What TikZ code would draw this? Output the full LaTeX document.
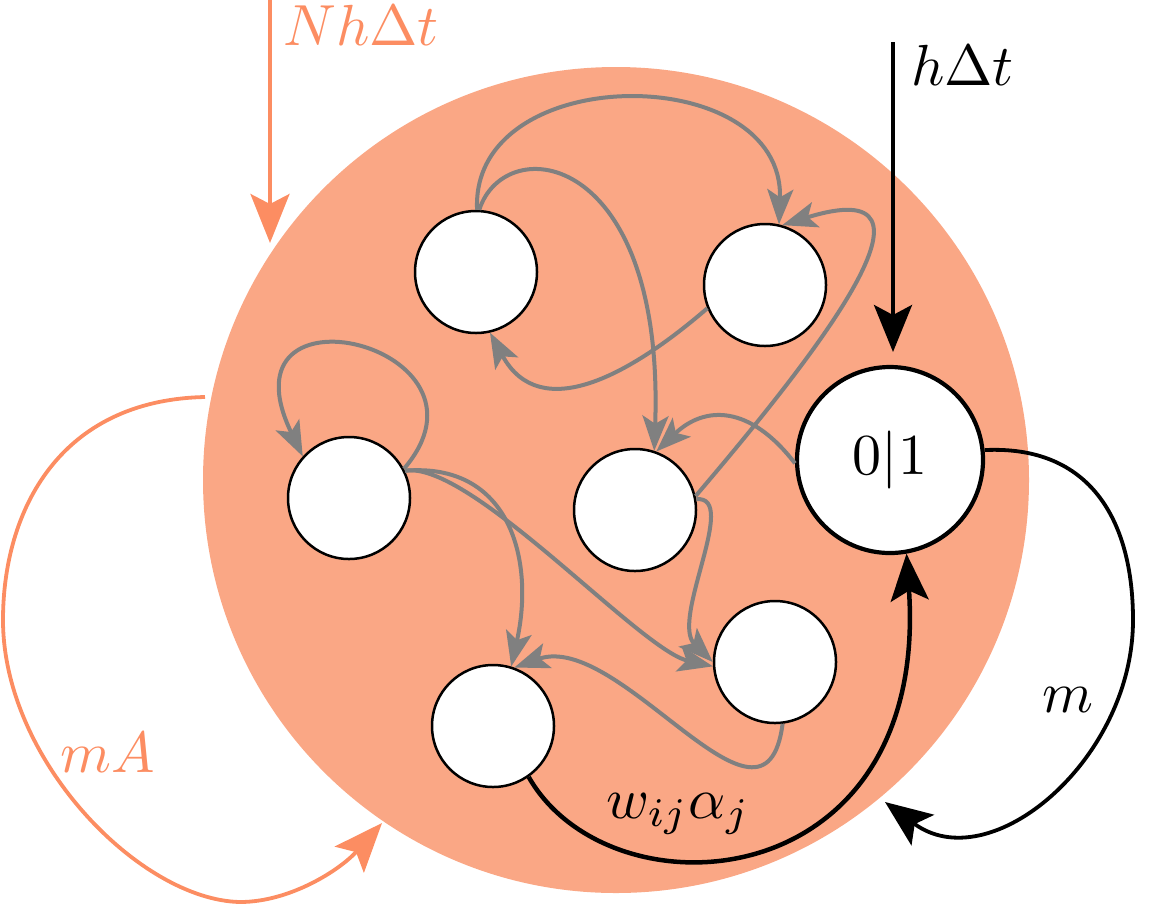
\documentclass[tikz,border=0pt]{standalone}
\usepackage{graphicx}
\usetikzlibrary{arrows.meta}
\definecolor{bigfill}{RGB}{250,167,133}
\definecolor{orangeline}{RGB}{252,141,98}
\definecolor{edgegray}{RGB}{128,128,128}
\newcommand{\bigtxt}[1]{\scalebox{5.8}{#1}}
\begin{document}
\begin{tikzpicture}[x=1pt,y=-1pt,
  unit/.style={circle,draw=black,fill=white,line width=2.5pt,minimum size=122pt,inner sep=0pt},
  bigunit/.style={circle,draw=black,fill=white,line width=4.2pt,minimum size=186pt,inner sep=0pt},
  lab/.style={inner sep=0pt},
  link/.style={draw=edgegray,line width=4pt,-{Stealth[length=35pt,width=26pt,inset=8pt]}},
  blacklink/.style={draw=black,line width=4.5pt,-{Stealth[length=47pt,width=38pt,inset=10pt]}},
  orangelink/.style={draw=orangeline,line width=3.8pt,-{Stealth[length=49pt,width=39pt,inset=10pt]}}
]
\useasboundingbox (0,0) rectangle (1174,906);
\fill[bigfill] (616,480) circle[radius=413];

\node[unit] (A) at (476,272) {};
\node[unit] (B) at (765,285) {};
\node[unit] (C) at (349,498) {};
\node[unit] (D) at (635,510) {};
\node[unit] (F) at (775,662) {};
\node[unit] (G) at (493,726) {};
\node[bigunit] (E) at (890,460) {\bigtxt{$0|1$}};

% gray connections
\draw[link] (A.89) .. controls (470,60) and (785,60) .. (B.77);
\draw[link] (A.87) .. controls (505,130) and (665,150) .. (D.72);
\draw[link] (B.202) .. controls (630,375) and (540,425) .. (A.283);
\draw[link] (E.182) .. controls (750,405) and (705,405) .. (D.70);
\draw[link] (D.13) .. controls (820,350) and (960,170) .. (B.74);
\draw[link] (C.28) .. controls (510,345) and (215,275) .. (C.138);
\draw[link] (C.26) .. controls (510,462) and (535,560) .. (G.73);
\draw[link] (C.26) .. controls (470,460) and (640,650) .. (F.184);
\draw[link] (D.10) .. controls (740,495) and (670,620) .. (F.180);
\draw[link] (F.277) .. controls (765,860) and (620,630) .. (G.70);

% black connections
\draw[blacklink] (G.-55) .. controls (610,920) and (930,900) .. (E.280);
\node[lab] (wlab) at (678,814) {\bigtxt{$w_{ij}\alpha_j$}};

\coordinate (mmid) at (1133,620);
\coordinate (mend) at (885,802);
\draw[blacklink,line width=3.8pt] (E.6) .. controls (1090,445) and (1133,520) .. (mmid)
  .. controls (1133,760) and (990,880) .. (mend);
\node[lab] (mlab) at (1068,700) {\bigtxt{$m$}};

\coordinate (htop) at (893,42);
\coordinate (hend) at (893,352);
\draw[blacklink,line width=4pt] (htop) -- (hend);
\node[lab,anchor=base west] (hlab) at (911,85) {\bigtxt{$h\Delta t$}};

% orange connections
\coordinate (ntop) at (270,0);
\coordinate (nend) at (270,243);
\draw[orangelink] (ntop) -- (nend);
\node[lab,anchor=base west,text=orangeline] (nlab) at (283,45) {\bigtxt{$Nh\Delta t$}};

\coordinate (mastart) at (205,397);
\coordinate (maend) at (382,823);
\draw[orangelink] (mastart) .. controls (60,400) and (3,510) .. (3,620)
  .. controls (3,760) and (140,900) .. (240,902)
  .. controls (290,902) and (340,870) .. (maend);
\node[lab,text=orangeline] (malab) at (108,753) {\bigtxt{$mA$}};
\end{tikzpicture}
\end{document}
